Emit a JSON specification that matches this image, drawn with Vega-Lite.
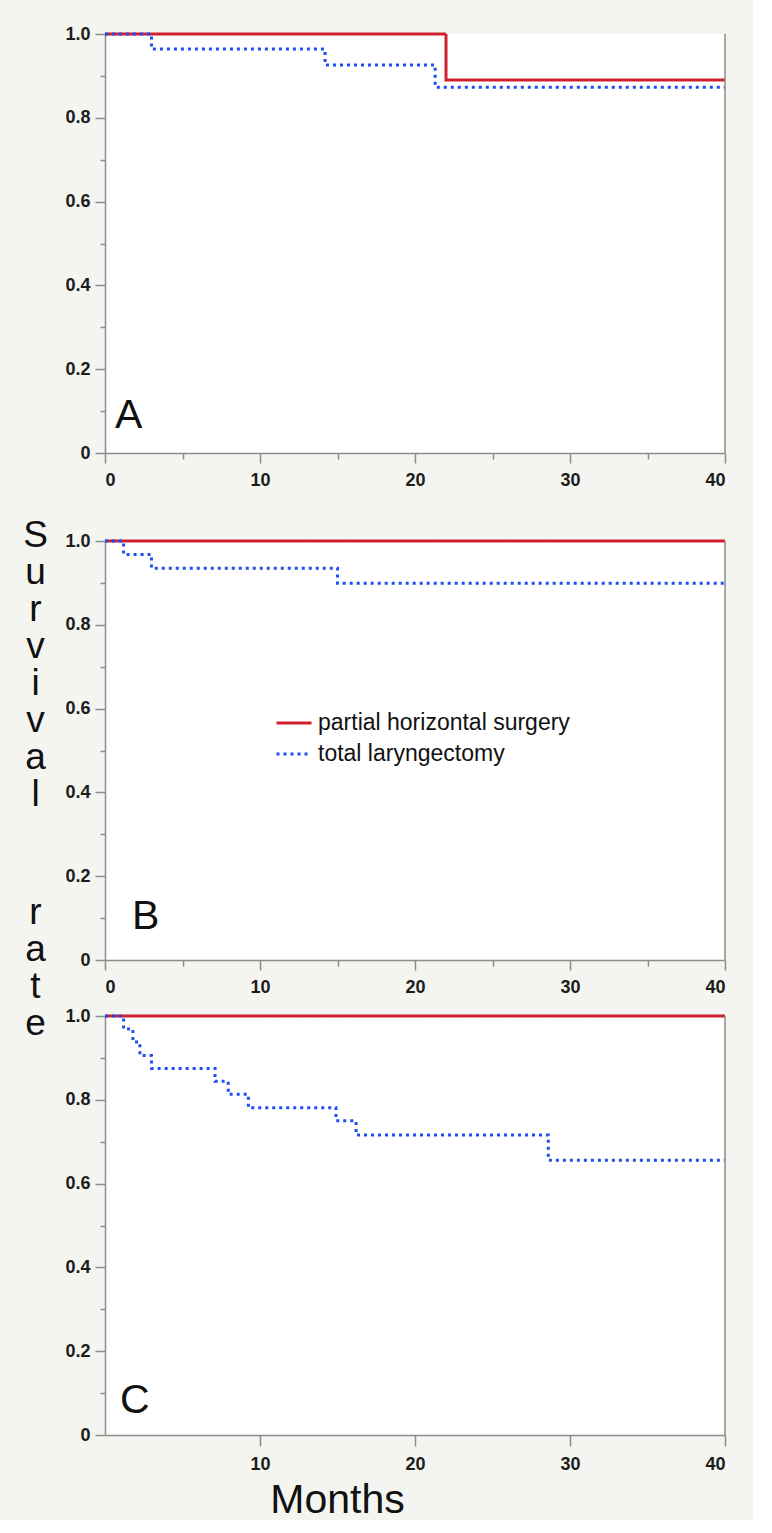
{
  "$schema": "https://vega.github.io/schema/vega-lite/v6.json",
  "background": "#f4f4f0",
  "padding": {"left": 22, "top": 25, "right": 22, "bottom": 0},
  "autosize": {"type": "pad"},
  "datasets": {
    "km": [
      {"panel": "A", "group": "partial horizontal surgery", "month": 0, "survival": 1},
      {"panel": "A", "group": "partial horizontal surgery", "month": 22.0, "survival": 0.89},
      {"panel": "A", "group": "partial horizontal surgery", "month": 40, "survival": 0.89},
      {"panel": "A", "group": "total laryngectomy", "month": 0, "survival": 1},
      {"panel": "A", "group": "total laryngectomy", "month": 3.0, "survival": 0.964},
      {"panel": "A", "group": "total laryngectomy", "month": 14.2, "survival": 0.926},
      {"panel": "A", "group": "total laryngectomy", "month": 21.3, "survival": 0.873},
      {"panel": "A", "group": "total laryngectomy", "month": 40, "survival": 0.873},
      {"panel": "B", "group": "partial horizontal surgery", "month": 0, "survival": 1},
      {"panel": "B", "group": "partial horizontal surgery", "month": 40, "survival": 1},
      {"panel": "B", "group": "total laryngectomy", "month": 0, "survival": 1},
      {"panel": "B", "group": "total laryngectomy", "month": 1.2, "survival": 0.968},
      {"panel": "B", "group": "total laryngectomy", "month": 3.0, "survival": 0.935},
      {"panel": "B", "group": "total laryngectomy", "month": 15.0, "survival": 0.899},
      {"panel": "B", "group": "total laryngectomy", "month": 40, "survival": 0.899},
      {"panel": "C", "group": "partial horizontal surgery", "month": 0, "survival": 1},
      {"panel": "C", "group": "partial horizontal surgery", "month": 40, "survival": 1},
      {"panel": "C", "group": "total laryngectomy", "month": 0, "survival": 1},
      {"panel": "C", "group": "total laryngectomy", "month": 1.2, "survival": 0.969},
      {"panel": "C", "group": "total laryngectomy", "month": 1.8, "survival": 0.938},
      {"panel": "C", "group": "total laryngectomy", "month": 2.25, "survival": 0.906},
      {"panel": "C", "group": "total laryngectomy", "month": 3.0, "survival": 0.875},
      {"panel": "C", "group": "total laryngectomy", "month": 7.1, "survival": 0.844},
      {"panel": "C", "group": "total laryngectomy", "month": 7.95, "survival": 0.813},
      {"panel": "C", "group": "total laryngectomy", "month": 9.25, "survival": 0.781},
      {"panel": "C", "group": "total laryngectomy", "month": 14.9, "survival": 0.75},
      {"panel": "C", "group": "total laryngectomy", "month": 16.2, "survival": 0.716},
      {"panel": "C", "group": "total laryngectomy", "month": 28.6, "survival": 0.656},
      {"panel": "C", "group": "total laryngectomy", "month": 40, "survival": 0.656}
    ]
  },
  "config": {
    "view": {"stroke": null, "fill": "white"},
    "axis": {
      "domainColor": "#8c8c8c", "domainWidth": 1.5,
      "tickColor": "#8c8c8c", "tickWidth": 1.5,
      "labelFont": "Liberation Sans", "labelFontSize": 18, "labelFontWeight": "bold", "labelColor": "#1c1c1c",
      "grid": false,
      "titleFont": "Liberation Sans", "titleFontWeight": "normal", "titleColor": "#111111"
    },
    "line": {"strokeWidth": 3}
  },
  "bounds": "flush",
  "spacing": 88,
  "resolve": {"legend": {"color": "independent", "strokeDash": "independent"}},
  "vconcat": [
    {
      "width": 620, "height": 419,
      "layer": [
        {
          "data": {"name": "km"},
          "transform": [{"filter": "datum.panel == 'A' && datum.group == 'partial horizontal surgery'"}],
          "mark": {"type": "line", "interpolate": "step-after", "strokeWidth": 3},
          "encoding": {
            "x": {"field": "month", "type": "quantitative", "scale": {"domain": [0, 40], "nice": false},
              "axis": {"title": null, "values": [0, 5, 10, 15, 20, 25, 30, 35, 40],
                "labelExpr": "datum.value % 10 == 0 ? datum.label : ''",
                "tickSize": {"condition": {"test": "datum.value % 10 == 0", "value": 10}, "value": 6},
                "labelPadding": 8}},
            "y": {"field": "survival", "type": "quantitative", "scale": {"domain": [0, 1], "nice": false},
              "axis": {"title": null, "values": [0, 0.1, 0.2, 0.3, 0.4, 0.5, 0.6, 0.7, 0.8, 0.9, 1],
                "labelExpr": "round(datum.value*10) % 2 == 0 ? (datum.value == 0 ? '0' : format(datum.value, '.1f')) : ''",
                "tickSize": {"condition": {"test": "round(datum.value*10) % 2 == 0", "value": 10}, "value": 5},
                "labelPadding": 5}},
            "color": {"field": "group", "type": "nominal", "scale": {"domain": ["partial horizontal surgery", "total laryngectomy"], "range": ["#d0202f", "#1f4ef0"]}, "legend": null},
            "strokeDash": {"field": "group", "type": "nominal", "scale": {"domain": ["partial horizontal surgery", "total laryngectomy"], "range": [[1, 0], [3, 4]]}, "legend": null}
          }
        },
        {
          "data": {"name": "km"},
          "transform": [{"filter": "datum.panel == 'A' && datum.group == 'total laryngectomy'"}],
          "mark": {"type": "line", "interpolate": "step-after", "strokeWidth": 3},
          "encoding": {
            "x": {"field": "month", "type": "quantitative"},
            "y": {"field": "survival", "type": "quantitative"},
            "color": {"field": "group", "type": "nominal", "legend": null},
            "strokeDash": {"field": "group", "type": "nominal", "legend": null}
          }
        },
        {
          "data": {"values": [{}]},
          "mark": {"type": "rule", "color": "#8c8c8c", "strokeWidth": 1.5},
          "encoding": {"x": {"datum": 40, "type": "quantitative"}}
        },
        {
          "data": {"values": [{"label": "A"}]},
          "mark": {"type": "text", "fontSize": 41, "font": "Liberation Sans", "align": "left", "baseline": "alphabetic", "color": "#111111"},
          "encoding": {"x": {"datum": 0.65, "type": "quantitative"}, "y": {"datum": 0.06, "type": "quantitative"}, "text": {"field": "label"}}
        }
      ]
    },
    {
      "bounds": "flush",
      "spacing": 56,
      "resolve": {"legend": {"color": "independent", "strokeDash": "independent"}},
      "vconcat": [
        {
          "width": 620, "height": 419,
          "layer": [
            {
              "data": {"name": "km"},
              "transform": [{"filter": "datum.panel == 'B' && datum.group == 'partial horizontal surgery'"}],
              "mark": {"type": "line", "interpolate": "step-after", "strokeWidth": 3},
              "encoding": {
                "x": {"field": "month", "type": "quantitative", "scale": {"domain": [0, 40], "nice": false},
                  "axis": {"title": null, "values": [0, 5, 10, 15, 20, 25, 30, 35, 40],
                    "labelExpr": "datum.value % 10 == 0 ? datum.label : ''",
                    "tickSize": {"condition": {"test": "datum.value % 10 == 0", "value": 10}, "value": 6},
                    "labelPadding": 8}},
                "y": {"field": "survival", "type": "quantitative", "scale": {"domain": [0, 1], "nice": false},
                  "axis": {"values": [0, 0.1, 0.2, 0.3, 0.4, 0.5, 0.6, 0.7, 0.8, 0.9, 1],
                    "labelExpr": "round(datum.value*10) % 2 == 0 ? (datum.value == 0 ? '0' : format(datum.value, '.1f')) : ''",
                    "tickSize": {"condition": {"test": "round(datum.value*10) % 2 == 0", "value": 10}, "value": 5},
                    "labelPadding": 5,
                    "title": ["S", "u", "r", "v", "i", "v", "a", "l"],
                    "titleAngle": 0, "titleFontSize": 37, "titleLineHeight": 37, "titleX": -70, "titleY": 5,
                    "titleAlign": "center", "titleBaseline": "alphabetic", "titleColor": "#111111"}},
                "color": {"field": "group", "type": "nominal", "scale": {"domain": ["partial horizontal surgery", "total laryngectomy"], "range": ["#d0202f", "#1f4ef0"]},
                  "legend": {"orient": "none", "legendX": 170, "legendY": 163, "title": null, "symbolType": "stroke", "symbolSize": 1225, "symbolStrokeWidth": 3,
                    "labelFont": "Liberation Sans", "labelFontSize": 23, "labelColor": "#111111", "labelOffset": 5, "labelLimit": 0, "rowPadding": -6, "padding": 0}},
                "strokeDash": {"field": "group", "type": "nominal", "scale": {"domain": ["partial horizontal surgery", "total laryngectomy"], "range": [[1, 0], [3, 4]]},
                  "legend": {"orient": "none", "legendX": 170, "legendY": 163, "title": null, "symbolType": "stroke", "symbolSize": 1225, "symbolStrokeWidth": 3,
                    "labelFont": "Liberation Sans", "labelFontSize": 23, "labelColor": "#111111", "labelOffset": 5, "labelLimit": 0, "rowPadding": -6, "padding": 0}}
              }
            },
            {
              "data": {"name": "km"},
              "transform": [{"filter": "datum.panel == 'B' && datum.group == 'total laryngectomy'"}],
              "mark": {"type": "line", "interpolate": "step-after", "strokeWidth": 3},
              "encoding": {
                "x": {"field": "month", "type": "quantitative"},
                "y": {"field": "survival", "type": "quantitative"},
                "color": {"field": "group", "type": "nominal"},
                "strokeDash": {"field": "group", "type": "nominal"}
              }
            },
            {
              "data": {"values": [{}]},
              "mark": {"type": "rule", "color": "#8c8c8c", "strokeWidth": 1.5},
              "encoding": {"x": {"datum": 40, "type": "quantitative"}}
            },
            {
              "data": {"values": [{"label": "B"}]},
              "mark": {"type": "text", "fontSize": 41, "font": "Liberation Sans", "align": "left", "baseline": "alphabetic", "color": "#111111"},
              "encoding": {"x": {"datum": 1.74, "type": "quantitative"}, "y": {"datum": 0.074, "type": "quantitative"}, "text": {"field": "label"}}
            }
          ]
        },
        {
          "width": 620, "height": 419,
          "layer": [
            {
              "data": {"name": "km"},
              "transform": [{"filter": "datum.panel == 'C' && datum.group == 'partial horizontal surgery'"}],
              "mark": {"type": "line", "interpolate": "step-after", "strokeWidth": 3},
              "encoding": {
                "x": {"field": "month", "type": "quantitative", "scale": {"domain": [0, 40], "nice": false},
                  "axis": {"values": [10, 20, 30, 40], "tickSize": 11, "labelPadding": 9,
                    "title": "Months", "titleFontSize": 41, "titleX": 232, "titleY": 77, "titleAlign": "center", "titleBaseline": "alphabetic", "titleColor": "#111111"}},
                "y": {"field": "survival", "type": "quantitative", "scale": {"domain": [0, 1], "nice": false},
                  "axis": {"values": [0, 0.1, 0.2, 0.3, 0.4, 0.5, 0.6, 0.7, 0.8, 0.9, 1],
                    "labelExpr": "round(datum.value*10) % 2 == 0 ? (datum.value == 0 ? '0' : format(datum.value, '.1f')) : ''",
                    "tickSize": {"condition": {"test": "round(datum.value*10) % 2 == 0", "value": 10}, "value": 5},
                    "labelPadding": 5,
                    "title": ["r", "a", "t", "e"],
                    "titleAngle": 0, "titleFontSize": 37, "titleLineHeight": 37, "titleX": -70, "titleY": -93,
                    "titleAlign": "center", "titleBaseline": "alphabetic", "titleColor": "#111111"}},
                "color": {"field": "group", "type": "nominal", "scale": {"domain": ["partial horizontal surgery", "total laryngectomy"], "range": ["#d0202f", "#1f4ef0"]}, "legend": null},
                "strokeDash": {"field": "group", "type": "nominal", "scale": {"domain": ["partial horizontal surgery", "total laryngectomy"], "range": [[1, 0], [3, 4]]}, "legend": null}
              }
            },
            {
              "data": {"name": "km"},
              "transform": [{"filter": "datum.panel == 'C' && datum.group == 'total laryngectomy'"}],
              "mark": {"type": "line", "interpolate": "step-after", "strokeWidth": 3},
              "encoding": {
                "x": {"field": "month", "type": "quantitative"},
                "y": {"field": "survival", "type": "quantitative"},
                "color": {"field": "group", "type": "nominal", "legend": null},
                "strokeDash": {"field": "group", "type": "nominal", "legend": null}
              }
            },
            {
              "data": {"values": [{}]},
              "mark": {"type": "rule", "color": "#8c8c8c", "strokeWidth": 1.5},
              "encoding": {"x": {"datum": 40, "type": "quantitative"}}
            },
            {
              "data": {"values": [{"label": "C"}]},
              "mark": {"type": "text", "fontSize": 41, "font": "Liberation Sans", "align": "left", "baseline": "alphabetic", "color": "#111111"},
              "encoding": {"x": {"datum": 0.97, "type": "quantitative"}, "y": {"datum": 0.0525, "type": "quantitative"}, "text": {"field": "label"}}
            }
          ]
        }
      ]
    }
  ]
}
